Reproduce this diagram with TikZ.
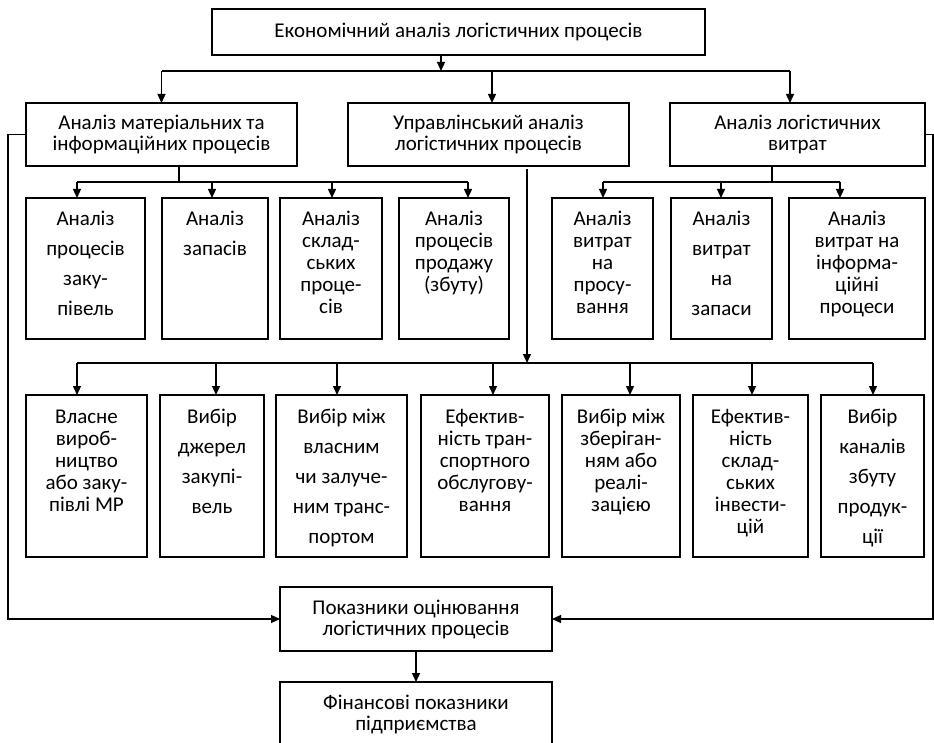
\documentclass[tikz,border=0pt]{standalone}
\usepackage{fontspec}
\setmainfont{Carlito}
\usetikzlibrary{arrows.meta}
\newcommand{\mytxt}[4]{\parbox[t][#2][t]{#1}{\centering\baselineskip=#3\relax\rule{0pt}{28pt}#4\par}}
\begin{document}
\begin{tikzpicture}[x=1pt,y=-1pt,
  box/.style={draw, line width=1.3pt, inner sep=0pt, outer sep=0pt, anchor=north west, align=center},
  pbox/.style={draw, line width=1.3pt, inner sep=0pt, outer sep=0pt, anchor=north west},
  ln/.style={line width=1.3pt},
  arr/.style={line width=1.3pt, -{Triangle[length=9pt,width=8pt]}},
  f/.style={font=\fontsize{21}{21}\selectfont}]
\fill[white] (0,0) rectangle (934,743);
\useasboundingbox (0,0) rectangle (934,743);

% level 1 and 2
\node[box,f,minimum width=493pt,minimum height=46pt] (T) at (212,9) {Економічний аналіз логістичних процесів};
\node[box,f,minimum width=271pt,minimum height=63pt] (A) at (26,103) {Аналіз матеріальних та\\інформаційних процесів};
\node[box,f,minimum width=281pt,minimum height=63pt] (B) at (348,103) {Управлінський аналіз\\логістичних процесів};
\node[box,f,minimum width=255pt,minimum height=63pt] (C) at (670,103) {Аналіз логістичних\\витрат};

% level 3
\node[pbox,f] (L1) at (26,198) {\mytxt{119pt}{141pt}{30pt}{Аналіз\\процесів\\заку-\\півель}};
\node[pbox,f] (L2) at (162,198) {\mytxt{106pt}{141pt}{30pt}{Аналіз\\запасів}};
\node[pbox,f] (L3) at (280,198) {\mytxt{102pt}{141pt}{22pt}{Аналіз\\склад-\\ських\\проце-\\сів}};
\node[pbox,f] (L4) at (399,198) {\mytxt{110pt}{141pt}{22pt}{Аналіз\\процесів\\продажу\\(збуту)}};
\node[pbox,f] (R1) at (552,198) {\mytxt{101pt}{141pt}{22pt}{Аналіз\\витрат\\на\\просу-\\вання}};
\node[pbox,f] (R2) at (671,198) {\mytxt{101pt}{141pt}{30pt}{Аналіз\\витрат\\на\\запаси}};
\node[pbox,f] (R3) at (789,198) {\mytxt{136pt}{141pt}{22pt}{Аналіз\\витрат на\\інформа-\\ційні\\процеси}};

% level 4
\node[pbox,f] (M1) at (26,395) {\mytxt{121pt}{162pt}{22pt}{Власне\\вироб-\\ництво\\або заку-\\півлі МР}};
\node[pbox,f] (M2) at (160,395) {\mytxt{104pt}{162pt}{30pt}{Вибір\\джерел\\закупі-\\вель}};
\node[pbox,f] (M3) at (276,395) {\mytxt{131pt}{162pt}{30pt}{Вибір між\\власним\\чи залуче-\\ним транс-\\портом}};
\node[pbox,f] (M4) at (421,395) {\mytxt{128pt}{162pt}{22pt}{Ефектив-\\ність тран-\\спортного\\обслугову-\\вання}};
\node[pbox,f] (M5) at (562,395) {\mytxt{118pt}{162pt}{22pt}{Вибір між\\зберіган-\\ням або\\реалі-\\зацією}};
\node[pbox,f] (M6) at (693,395) {\mytxt{115pt}{162pt}{22pt}{Ефектив-\\ність\\склад-\\ських\\інвести-\\цій}};
\node[pbox,f] (M7) at (821,395) {\mytxt{103pt}{162pt}{30pt}{Вибір\\каналів\\збуту\\продук-\\ції}};

% bottom
\node[box,f,minimum width=272pt,minimum height=64pt] (P) at (280,587) {Показники оцінювання\\логістичних процесів};
\node[box,f,minimum width=272pt,minimum height=64pt] (F) at (280,682) {Фінансові показники\\підприємства};

% top bar
\coordinate (tj) at (441,71);
\coordinate (tl) at (161.5,71);
\coordinate (tm) at (492,71);
\coordinate (tr) at (790,71);
\draw[arr] (T.south -| tj) -- (tj);
\draw[ln] (tl) -- (tr);
\draw[arr] (tl) -- (A.north -| tl);
\draw[arr] (tm) -- (B.north -| tm);
\draw[arr] (tr) -- (C.north -| tr);

% left group
\coordinate (lj) at (179,182);
\coordinate (l1) at (77,182);
\coordinate (l2) at (212,182);
\coordinate (l3) at (332,182);
\coordinate (l4) at (468,182);
\draw[ln] (A.south -| lj) -- (lj);
\draw[ln] (l1) -- (l4);
\draw[arr] (l1) -- (L1.north -| l1);
\draw[arr] (l2) -- (L2.north -| l2);
\draw[arr] (l3) -- (L3.north -| l3);
\draw[arr] (l4) -- (L4.north -| l4);

% right group
\coordinate (rj) at (772,182);
\coordinate (r1) at (603,182);
\coordinate (r2) at (721,182);
\coordinate (r3) at (840,182);
\draw[ln] (C.south -| rj) -- (rj);
\draw[ln] (r1) -- (r3);
\draw[arr] (r1) -- (R1.north -| r1);
\draw[arr] (r2) -- (R2.north -| r2);
\draw[arr] (r3) -- (R3.north -| r3);

% middle group
\coordinate (mj) at (527,363);
\coordinate (m1) at (77,363);
\coordinate (m2) at (216,363);
\coordinate (m3) at (337,363);
\coordinate (m4) at (493,363);
\coordinate (m5) at (630,363);
\coordinate (m6) at (752,363);
\coordinate (m7) at (873,363);
\draw[arr, shorten <=3pt] (B.south -| mj) -- (mj);
\draw[ln] (m1) -- (m7);
\draw[arr] (m1) -- (M1.north -| m1);
\draw[arr] (m2) -- (M2.north -| m2);
\draw[arr] (m3) -- (M3.north -| m3);
\draw[arr] (m4) -- (M4.north -| m4);
\draw[arr] (m5) -- (M5.north -| m5);
\draw[arr] (m6) -- (M6.north -| m6);
\draw[arr] (m7) -- (M7.north -| m7);

% feedback
\coordinate (fl) at (8,619);
\coordinate (fr) at (933,619);
\draw[arr] (A.west) -| (fl) -- (P.west);
\draw[arr] (C.east) -| (fr) -- (P.east);
\draw[arr] (P.south) -- (F.north);
\end{tikzpicture}
\end{document}
